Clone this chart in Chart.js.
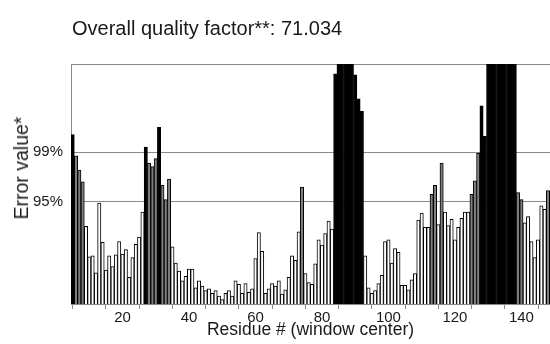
<!DOCTYPE html>
<html>
<head>
<meta charset="utf-8">
<script src="https://cdn.jsdelivr.net/npm/chart.js@4.4.0/dist/chart.umd.min.js"></script>
<style>
    html, body { margin: 0; padding: 0; background: #fff; overflow: hidden; }
    #wrap { position: relative; width: 550px; height: 344px; font-family: "Liberation Sans", Arial, sans-serif; color: #1a1a1a; }
    #wrap canvas { position: absolute; left: 0; top: 0; }
    #title { position: absolute; left: 72px; top: 18px; font-size: 20px; line-height: 20px; white-space: nowrap; }
    #ylabel { position: absolute; left: 21px; top: 168px; font-size: 19.5px; line-height: 20px; white-space: nowrap; transform: translate(-50%, -50%) rotate(-90deg); }
</style>
</head>
<body>
<div id="wrap">
    <canvas id="errat" width="550" height="344"></canvas>
    <div id="title">Overall quality factor**: 71.034</div>
    <div id="ylabel">Error value*</div>
</div>
<script>
// Residue numbers (window center)
const residues = [
    5, 6, 7, 8, 9, 10, 11, 12, 13, 14,
    15, 16, 17, 18, 19, 20, 21, 22, 23, 24,
    25, 26, 27, 28, 29, 30, 31, 32, 33, 34,
    35, 36, 37, 38, 39, 40, 41, 42, 43, 44,
    45, 46, 47, 48, 49, 50, 51, 52, 53, 54,
    55, 56, 57, 58, 59, 60, 61, 62, 63, 64,
    65, 66, 67, 68, 69, 70, 71, 72, 73, 74,
    75, 76, 77, 78, 79, 80, 81, 82, 83, 84,
    85, 86, 87, 88, 89, 90, 91, 92, 93, 94,
    95, 96, 97, 98, 99, 100, 101, 102, 103, 104,
    105, 106, 107, 108, 109, 110, 111, 112, 113, 114,
    115, 116, 117, 118, 119, 120, 121, 122, 123, 124,
    125, 126, 127, 128, 129, 130, 131, 132, 133, 134,
    135, 136, 137, 138, 139, 140, 141, 142, 143, 144,
    145, 146, 147, 148
];

// Error value per residue (27 = off the top of the plot)
const errorValues = [
    19.0, 16.6, 15.0, 13.7, 8.7, 5.3, 5.4, 3.5, 11.3, 6.9,
    3.8, 5.4, 4.2, 5.5, 7.0, 5.6, 6.1, 3.0, 5.2, 6.7,
    7.5, 10.3, 17.6, 15.8, 15.4, 16.3, 19.8, 13.3, 11.7, 14.0,
    6.4, 4.6, 3.7, 2.6, 3.1, 3.9, 3.9, 1.8, 2.6, 2.0,
    1.5, 1.7, 1.2, 1.5, 0.9, 0.5, 1.2, 1.5, 0.9, 2.6,
    2.2, 1.2, 2.3, 1.3, 1.7, 5.1, 8.0, 5.9, 1.2, 1.7,
    2.3, 2.0, 2.6, 1.1, 1.6, 3.0, 5.4, 4.9, 8.1, 13.1,
    3.4, 2.4, 2.2, 4.5, 7.2, 6.6, 7.9, 9.3, 8.4, 25.8,
    27, 27, 27, 27, 27, 25.7, 23.0, 21.6, 5.4, 1.8,
    1.2, 1.5, 2.3, 3.2, 7.0, 7.2, 4.6, 6.2, 5.8, 2.1,
    2.1, 1.6, 2.7, 3.4, 9.4, 10.2, 8.6, 8.6, 12.3, 13.3,
    8.9, 15.8, 10.3, 8.8, 9.5, 7.2, 8.6, 9.6, 10.3, 10.3,
    12.3, 13.8, 16.9, 22.2, 18.8, 27, 27, 27, 27, 27,
    27, 27, 27, 27, 12.5, 11.7, 9.1, 9.8, 7.0, 5.2,
    7.2, 11.0, 10.6, 12.7
];

// Confidence limits and their labels
const limitValues = [11.5, 17.0];
const limitLabels = ['95%', '99%'];
const yMax = 26.9;

// X axis ticks (labels only on every second one)
const xTicks = [10, 20, 30, 40, 50, 60, 70, 80, 90, 100, 110, 120, 130, 140];

const lineGray = '#8a8a8a';
const textColor = '#1a1a1a';
const fontFamily = '"Liberation Sans", Arial, sans-serif';

function barColor(v) {
    if (v > limitValues[1]) return '#000000';
    if (v > limitValues[0]) return '#7f7f7f';
    return '#ffffff';
}

const ctx = document.getElementById('errat').getContext('2d');
new Chart(ctx, {
    type: 'bar',
    data: {
        datasets: [{
            data: residues.map((r, i) => ({ x: r, y: errorValues[i] })),
            backgroundColor: errorValues.map(barColor),
            borderColor: '#000000',
            borderWidth: 1,
            borderSkipped: 'start',
            barPercentage: 1,
            categoryPercentage: 1
        }]
    },
    options: {
        responsive: false,
        animation: false,
        devicePixelRatio: 1,
        layout: { padding: { top: 64, left: 0, right: 0, bottom: 0 } },
        plugins: { legend: { display: false }, tooltip: { enabled: false } },
        scales: {
            x: {
                type: 'linear',
                offset: false,
                min: 4.5,
                max: 148.6,
                afterBuildTicks: (s) => { s.ticks = xTicks.map(v => ({ value: v })); },
                afterFit: (s) => { s.height = 40; },
                ticks: {
                    autoSkip: false,
                    maxRotation: 0,
                    padding: 0,
                    color: textColor,
                    font: { family: fontFamily, size: 15 },
                    callback: (v) => (v % 20 === 0 ? String(v) : '')
                },
                grid: { drawOnChartArea: false, drawTicks: true, tickLength: 5, color: lineGray },
                border: { color: lineGray },
                title: {
                    display: true,
                    text: 'Residue # (window center)',
                    color: textColor,
                    padding: { top: 0, bottom: 3 },
                    font: { family: fontFamily, size: 17.5 }
                }
            },
            y: {
                min: 0,
                max: yMax,
                afterBuildTicks: (s) => { s.ticks = limitValues.concat([yMax]).map(v => ({ value: v })); },
                afterFit: (s) => { s.width = 71; },
                ticks: {
                    padding: 8,
                    color: textColor,
                    font: { family: fontFamily, size: 15 },
                    callback: (v, i) => limitLabels[i] || ''
                },
                grid: { drawTicks: false, color: lineGray },
                border: { color: lineGray }
            }
        }
    }
});
</script>
</body>
</html>
